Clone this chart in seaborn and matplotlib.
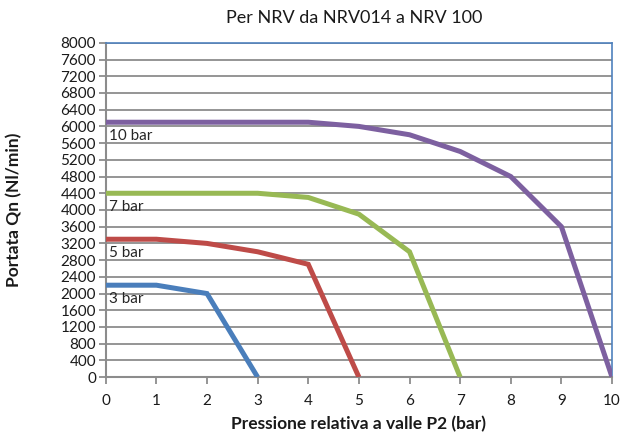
import matplotlib
matplotlib.use("Agg")
import matplotlib.pyplot as plt
import seaborn as sns
import pandas as pd

title = "Per NRV da NRV014 a NRV 100"
xlabel = "Pressione relativa a valle P2 (bar)"
ylabel = "Portata Qn (Nl/min)"

series_names = ["3 bar", "5 bar", "7 bar", "10 bar"]
x_3 = [0, 1, 2, 3]
y_3 = [2200, 2200, 2000, 0]
x_5 = [0, 1, 2, 3, 4, 5]
y_5 = [3300, 3300, 3200, 3000, 2700, 0]
x_7 = [0, 1, 2, 3, 4, 5, 6, 7]
y_7 = [4400, 4400, 4400, 4400, 4300, 3900, 3000, 0]
x_10 = [0, 1, 2, 3, 4, 5, 6, 7, 8, 9, 10]
y_10 = [6100, 6100, 6100, 6100, 6100, 6000, 5800, 5400, 4800, 3600, 0]
colors = ["#4A7EBB", "#BE4B48", "#98B954", "#7D60A0"]

xs = [x_3, x_5, x_7, x_10]
ys = [y_3, y_5, y_7, y_10]
rows = []
for name, xx, yy in zip(series_names, xs, ys):
    for a, b in zip(xx, yy):
        rows.append({"P2": a, "Qn": b, "serie": name})
df = pd.DataFrame(rows)

sns.set_theme(style="white")
plt.rcParams['font.family'] = ['Lato', 'DejaVu Sans']

fig = plt.figure(figsize=(6.22, 4.37), dpi=100)
ax = fig.add_axes([0.170, 0.137, 0.814, 0.765])

for y in range(400, 8001, 400):
    ax.axhline(y, color="#8C8C8C", lw=1.3, zorder=0)

sns.lineplot(data=df, x="P2", y="Qn", hue="serie", palette=dict(zip(series_names, colors)),
             hue_order=series_names, lw=3.6, legend=False, ax=ax, zorder=3,
             solid_joinstyle="miter", solid_capstyle="butt")

for name, yy in zip(series_names, ys):
    ax.text(0.06, yy[0] - 170, name, ha="left", va="top", fontsize=11, color="#262626", zorder=4)

ax.set_xlim(0, 10)
ax.set_ylim(0, 8000)
ax.set_xticks(range(0, 11))
ax.set_yticks(range(0, 8001, 400))
ax.tick_params(axis="both", labelsize=11, colors="#8C8C8C", labelcolor="#1a1a1a",
               direction="out", length=5, width=1.3, left=True, bottom=True)
ax.tick_params(axis="x", pad=7)
ax.tick_params(axis="y", pad=2)

for side in ["left", "bottom"]:
    ax.spines[side].set_color("#8C8C8C")
    ax.spines[side].set_linewidth(1.5)
for side in ["top", "right"]:
    ax.spines[side].set_color("#4F81BD")
    ax.spines[side].set_linewidth(1.2)

ax.set_xlabel("")
ax.set_ylabel(ylabel, fontsize=12.5, fontweight="bold", color="#1a1a1a")
ax.yaxis.set_label_coords(-0.165, 0.5)
fig.text(0.577, 0.030, xlabel, ha="center", va="center", fontsize=12.5,
         fontweight="bold", color="#1a1a1a")
fig.text(0.570, 0.958, title, ha="center", va="center", fontsize=13, color="#1a1a1a")

fig.savefig("out.png", dpi=100)
